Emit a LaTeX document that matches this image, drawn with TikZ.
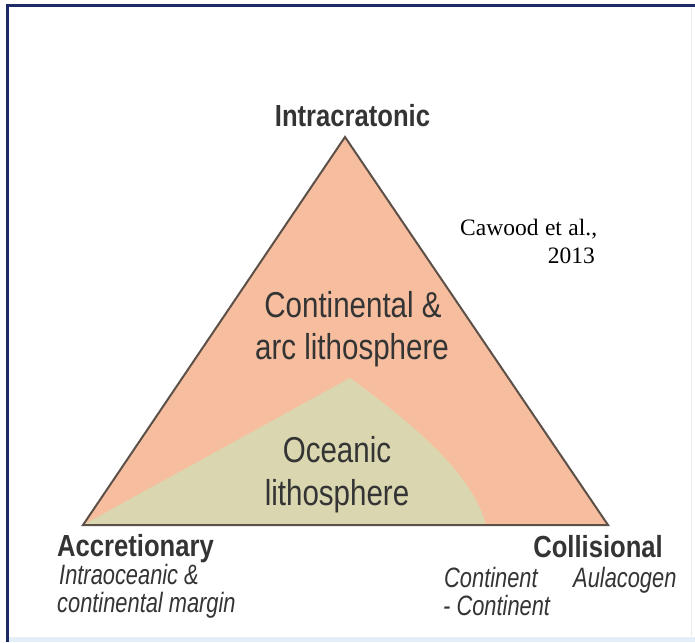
\documentclass[tikz,border=0pt]{standalone}
\usepackage{fontspec}
\setmainfont{Liberation Sans}
% condensed grotesque faces for the labels
\newfontfamily\regionfont[FakeStretch=0.82]{Liberation Sans}
\newfontfamily\cornerfont[FakeStretch=0.84]{Liberation Sans}
\newfontfamily\subfont[FakeStretch=0.78]{Liberation Sans}
\newfontfamily\citefont{Liberation Serif}

\definecolor{framenavy}{RGB}{28,42,104}
\definecolor{framepale}{RGB}{228,238,248}
\definecolor{framegray}{RGB}{236,236,230}
\definecolor{crust}{RGB}{246,190,158}
\definecolor{ocean}{RGB}{218,215,176}
\definecolor{edge}{RGB}{92,80,72}
\definecolor{ink}{RGB}{52,52,52}

\tikzset{
  lbl/.style={inner sep=0pt, text=ink},
  regionlbl/.style={lbl, font=\regionfont\fontsize{36}{40}\selectfont, anchor=base},
  cornerlbl/.style={lbl, font=\cornerfont\bfseries\fontsize{30.5}{34}\selectfont},
  sublbl/.style={lbl, font=\subfont\itshape\fontsize{28}{30}\selectfont, anchor=base west},
  citelbl/.style={inner sep=0pt, text=black, font=\citefont\fontsize{23.5}{28}\selectfont},
}

\begin{document}
\begin{tikzpicture}[x=1pt,y=-1pt]
\useasboundingbox (0,0) rectangle (695,642);
\fill[white] (0,0) rectangle (695,642);

% slide frame
\fill[framepale] (9,636.5) rectangle (695,642);
\draw[framegray, line width=1pt] (691.5,8) -- (691.5,636);
\draw[framenavy, line width=3pt] (7.5,642) -- (7.5,5.5) -- (695,5.5);

% ternary triangle
\coordinate (apex) at (345,137);
\coordinate (acc) at (83,525);
\coordinate (col) at (608,525);
\coordinate (peak) at (350,378);
\coordinate (foot) at (486,525);

\fill[crust] (apex) -- (acc) -- (col) -- cycle;
\fill[ocean] (acc) -- (peak) .. controls (410,422) and (472,472) .. (foot) -- cycle;
\draw[edge, line width=2pt, line join=miter] (apex) -- (acc) -- (col) -- cycle;

% vertex labels
\node[cornerlbl, anchor=base] (intra) at (352.5,126) {Intracratonic};
\node[cornerlbl, anchor=base west] (accr) at (57,556) {Accretionary};
\node[cornerlbl, anchor=base east] (coll) at (663,557) {Collisional};

% sub-labels
\node[sublbl] (intraoc) at (59,584) {Intraoceanic \&};
\node[sublbl] (contmar) at (57,612) {continental margin};
\node[sublbl] (contc) at (444,587) {Continent};
\node[sublbl] (dashc) at (443,615) {- Continent};
\node[sublbl] (aula) at (573,587) {Aulacogen};

% region labels
\node[regionlbl] (cont1) at (353,317) {Continental \&};
\node[regionlbl] (cont2) at (352,359) {arc lithosphere};
\node[regionlbl] (oce1) at (337,462) {Oceanic};
\node[regionlbl] (oce2) at (337,505) {lithosphere};

% citation
\node[citelbl, anchor=base west] (cite1) at (460,235) {\makebox[137pt][s]{Cawood et al.,}};
\node[citelbl, anchor=base east] (cite2) at (595,263) {2013};
\end{tikzpicture}
\end{document}
